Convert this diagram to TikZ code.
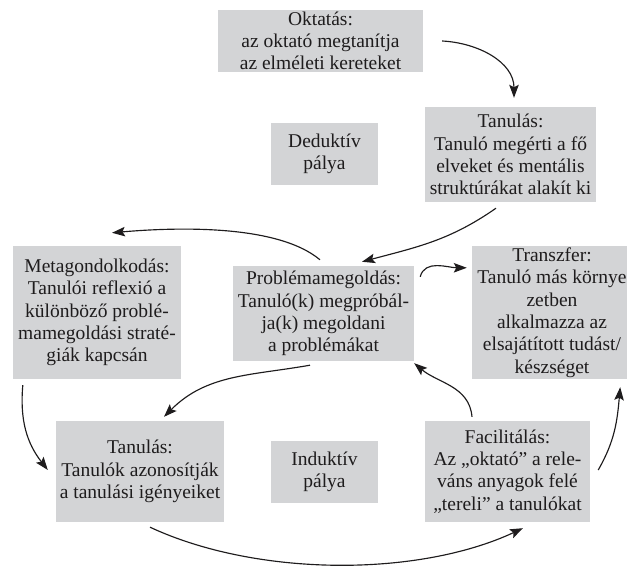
\documentclass[tikz,border=0pt]{standalone}
\usepackage{fontspec}
\setmainfont{Liberation Serif}
\usetikzlibrary{arrows.meta}
\definecolor{boxgray}{RGB}{211,212,214}
\definecolor{ink}{RGB}{30,28,29}
\begin{document}
\begin{tikzpicture}[x=1pt,y=1pt,
  box/.style={fill=boxgray, inner sep=0pt, align=center, text=ink,
    font=\fontsize{19.5}{22.3}\selectfont},
  arr/.style={-{Stealth[length=13pt,width=9.5pt,inset=2.5pt]}, line width=1.15pt, draw=ink}]
\clip (0,0) rectangle (627,567);
\node[box, minimum width=205pt, minimum height=62pt] (okt) at (320.5,526) {Oktatás:\\az oktató megtanítja\\az elméleti kereteket};
\node[box, minimum width=171pt, minimum height=95pt] (tan1) at (510.5,412.5) {Tanulás:\\Tanuló megérti a fő\\elveket és mentális\\struktúrákat alakít ki};
\node[box, minimum width=107pt, minimum height=62pt] (ded) at (324.5,413) {Deduktív\\pálya};
\node[box, minimum width=168pt, minimum height=133pt] (meta) at (97,254.5) {Metagondolkodás:\\Tanulói reflexió a\\különböző problé-\\mamegoldási straté-\\giák kapcsán};
\node[box, minimum width=160pt, minimum height=133pt] (tr) at (552,254.5) {Transzfer:\\Tanuló más környe\\zetben\\alkalmazza az\\elsajátított tudást/\\készséget};
\node[box, minimum width=181pt, minimum height=95pt] (pm) at (323.5,253.5) {Problémamegoldás:\\Tanuló(k) megpróbál-\\ja(k) megoldani\\a problémákat};
\node[box, minimum width=168pt, minimum height=101pt] (tan2) at (140,95.5) {Tanulás:\\Tanulók azonosítják\\a tanulási igényeiket};
\node[box, minimum width=107pt, minimum height=62pt] (ind) at (324.5,95) {Induktív\\pálya};
\node[box, minimum width=165pt, minimum height=101pt] (fac) at (507.5,95.5) {Facilitálás:\\Az „oktató” a rele-\\váns anyagok felé\\„tereli” a tanulókat};

\draw[arr] ([xshift=19pt]okt.east) to[out=-3,in=90] ([xshift=3.5pt,yshift=9pt]tan1.north);
\draw[arr] ([xshift=-14.5pt,yshift=-6pt]tan1.south) to[out=215,in=15] ([xshift=38.5pt,yshift=4pt]pm.north);
\draw[arr] ([xshift=-3.5pt,yshift=6pt]pm.north) to[out=140,in=5,looseness=0.7] ([xshift=15pt,yshift=13pt]meta.north);
\draw[arr] ([xshift=6pt,yshift=-11pt]pm.north east) to[out=75,in=180] ([xshift=-5pt,yshift=-22pt]tr.north west);
\draw[arr] ([xshift=10pt,yshift=-6pt]meta.south west) to[out=265,in=128] ([xshift=-8pt,yshift=1.5pt]tan2.west);
\draw[arr] ([xshift=-13.5pt,yshift=-4pt]pm.south) to[out=190,in=45] ([xshift=24pt,yshift=4pt]tan2.north);
\draw[arr] ([xshift=10pt,yshift=-5pt]tan2.south) to[out=-25,in=205,looseness=0.8] ([xshift=15.5pt,yshift=-6pt]fac.south);
\draw[arr] ([xshift=-35.5pt,yshift=4pt]fac.north) to[out=95,in=-40] ([yshift=-2pt]pm.south east);
\draw[arr] ([xshift=8pt,yshift=1.5pt]fac.east) to[out=60,in=265] ([xshift=-12pt,yshift=-8pt]tr.south east);
\end{tikzpicture}
\end{document}
